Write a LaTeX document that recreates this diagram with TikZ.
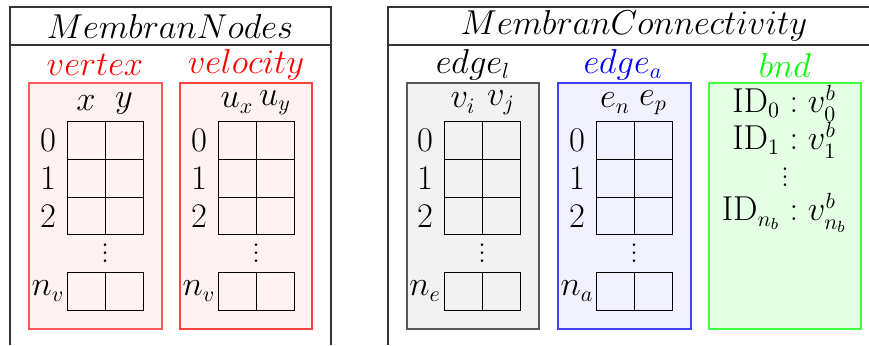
\documentclass[tikz,border=0pt]{standalone}
\usepackage{amsmath}
\newcommand{\puntini}{$\vcenter{\baselineskip4pt\lineskiplimit0pt\hbox{.}\hbox{.}\hbox{.}}$}
\begin{document}
\begin{tikzpicture}[x=0.5pt,y=-0.5pt,
    cornice/.style={line width=0.6pt,draw=black!80},
    cella/.style={line width=0.5pt,draw=black},
    scatola/.style={line width=0.7pt},
    lab/.style={inner sep=0pt},
    titolo/.style={inner sep=0pt}]
  \fontsize{16}{19}\selectfont
  \useasboundingbox (0,0) rectangle (869,345);

  % ---- cornici --------------------------------------------------------------
  \draw[cornice] (10,345) -- (10,7) -- (331,7) -- (331,345);
  \draw[cornice] (10,45) -- (331,45);
  \draw[cornice] (388,345) -- (388,7) -- (869,7);
  \draw[cornice] (388,45) -- (869,45);
  \node[titolo] (tnodes) at (170,26) {$MembranNodes$};
  \node[titolo] (tconn)  at (634,26) {$MembranConnectivity$};

  % ---- scatole --------------------------------------------------------------
  \draw[scatola,draw=red!65,fill=red!5]     (29,83)  rectangle (162,329);
  \draw[scatola,draw=red!75,fill=red!5]     (180,83) rectangle (312,329);
  \draw[scatola,draw=black!65,fill=black!5] (407,83) rectangle (539,329);
  \draw[scatola,draw=blue!75,fill=blue!5]   (558,83) rectangle (691,329);
  \draw[scatola,draw=green!75,fill=green!10](709,83) rectangle (861,329);

  \node[lab,text=red]   (lvert) at (95,65)  {$vertex$};
  \node[lab,text=red]   (lvelo) at (246,65) {$velocity$};
  \node[lab]            (ledgl) at (473,65) {$edge_l$};
  \node[lab,text=blue]  (ledga) at (623,65) {$edge_a$};
  \node[lab,text=green] (lbnd)  at (785,65) {$bnd$};

  % ---- tabelle --------------------------------------------------------------
  \foreach \gx/\nome/\ult/\ca/\cb in {67/vert/n_v/x/y, 218/velo/n_v/u_x/u_y,
                                      444/edgl/n_e/v_i/v_j, 596/edga/n_a/e_n/e_p}{
    \draw[cella] (\gx,121) rectangle ++(76,113);
    \draw[cella] (\gx+38,121) -- ++(0,113);
    \draw[cella] (\gx,159) -- ++(76,0) (\gx,197) -- ++(76,0);
    \draw[cella] (\gx,272) rectangle ++(76,38);
    \draw[cella] (\gx+38,272) -- ++(0,38);
    \node[lab] (c1\nome) at (\gx+19,103) {$\ca$};
    \node[lab] (c2\nome) at (\gx+57,103) {$\cb$};
    \node[lab] (r0\nome) at (\gx-19,140) {$0$};
    \node[lab] (r1\nome) at (\gx-19,178) {$1$};
    \node[lab] (r2\nome) at (\gx-19,216) {$2$};
    \node[lab] (rn\nome) at (\gx-19,291) {$\ult$};
    \node[lab] (pp\nome) at (\gx+38,253) {\puntini};
  }

  % ---- bnd ------------------------------------------------------------------
  \node[lab] (b0) at (794,103) {\llap{$\mathrm{ID}_0$}${}:{}$\rlap{$v_0^b$}};
  \node[lab] (b1) at (794,140) {\llap{$\mathrm{ID}_1$}${}:{}$\rlap{$v_1^b$}};
  \node[lab] (bp) at (785,177) {\puntini};
  \node[lab] (bn) at (794,213) {\llap{$\mathrm{ID}_{n_b}$}${}:{}$\rlap{$v_{n_b}^b$}};
\end{tikzpicture}
\end{document}
